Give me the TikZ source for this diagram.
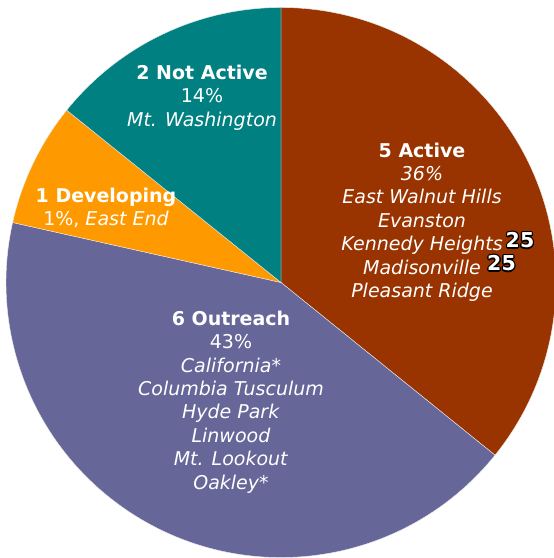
\documentclass[tikz,border=0pt]{standalone}
\usepackage{fontspec}
\setmainfont{DejaVu Sans}[ItalicFont={DejaVu Sans Oblique},BoldFont={DejaVu Sans Bold},BoldItalicFont={DejaVu Sans Bold Oblique}]
\usepackage{xcolor}
\usepackage{contour}
\contourlength{1.2pt}
\usepackage{tikz}
\usetikzlibrary{positioning}

\definecolor{activecol}{HTML}{993300}
\definecolor{outreachcol}{HTML}{666699}
\definecolor{developcol}{HTML}{FF9900}
\definecolor{notactivecol}{HTML}{008080}

\begin{document}
\begin{tikzpicture}[x=1pt, y=1pt,
  slice/.style={draw=white!85!gray, line width=0.4pt},
  lbl/.style={text=white, align=center, inner sep=0pt, font=\fontsize{19}{23.4}\selectfont},
  tag/.style={inner sep=0pt, font=\fontsize{20.5}{24}\selectfont\bfseries}]

\useasboundingbox (0,0) rectangle (554,558);
\coordinate (c) at (281,275.5);

% Pie slices
\filldraw[slice, fill=activecol] (c) -- ++(90:275) arc[start angle=90, end angle=-38.9, radius=275] -- cycle;
\filldraw[slice, fill=outreachcol] (c) -- ++(-38.9:275) arc[start angle=-38.9, end angle=-192.6, radius=275] -- cycle;
\filldraw[slice, fill=developcol] (c) -- ++(167.4:275) arc[start angle=167.4, end angle=141.2, radius=275] -- cycle;
\filldraw[slice, fill=notactivecol] (c) -- ++(141.2:275) arc[start angle=141.2, end angle=90, radius=275] -- cycle;

% Slice labels
\node[lbl] (active) at (422,336) {\textbf{5 Active}\\ \textit{36\%}\\ \textit{East Walnut Hills}\\ \textit{Evanston}\\ \textit{Kennedy Heights}\\ \textit{Madisonville}\\ \textit{Pleasant Ridge}};
\node[lbl] (outreach) at (231,156) {\textbf{6 Outreach}\\ 43\%\\ \textit{California*}\\ \textit{Columbia Tusculum}\\ \textit{Hyde Park}\\ \textit{Linwood}\\ \textit{Mt. Lookout}\\ \textit{Oakley*}};
\node[lbl] (notactive) at (202,460.5) {\textbf{2 Not Active}\\ 14\%\\ \textit{Mt. Washington}};
\node[lbl] (developing) at (106,350) {\textbf{1 Developing}\\ 1\%, \textit{East End}};

% Outlined counts
\node[tag] (kennedy) at (520,317) {\contour{black}{\textcolor{white}{25}}};
\node[tag] (madison) at (501.5,294) {\contour{black}{\textcolor{white}{25}}};

\end{tikzpicture}
\end{document}
